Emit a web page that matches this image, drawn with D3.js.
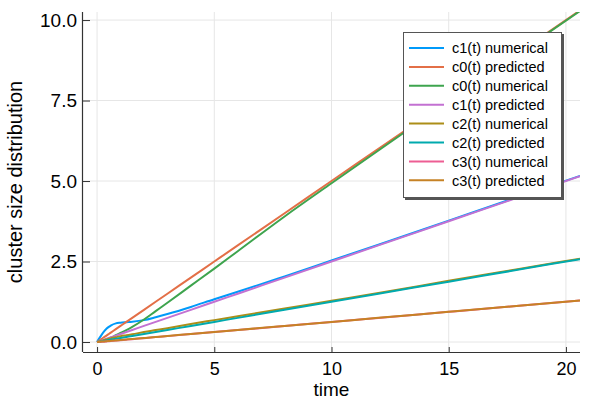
<!DOCTYPE html>
<html><head><meta charset="utf-8">
<script src="https://cdn.jsdelivr.net/npm/d3@7"></script>
<style>
html,body{margin:0;padding:0;background:#fff;}
text{font-family:"Liberation Sans",Arial,sans-serif;fill:#000;}
</style></head>
<body><svg id="chart" width="600" height="400"></svg>
<script>
const time = [0,0.1,0.2,0.3,0.4,0.5,0.6,0.8,1.0,1.25,1.5,2,2.5,3,4,5,6,8,10,12,15,18,20.6];
const c1Numerical = [0,0.12,0.23,0.33,0.41,0.47,0.52,0.58,0.6,0.615,0.63,0.68,0.77,0.87,1.09,1.33,1.56,2.04,2.53,3.02,3.77,4.52,5.16];
const c0Predicted = [0,0.05,0.1,0.15,0.2,0.25,0.3,0.4,0.5,0.625,0.75,1,1.25,1.5,2,2.5,3,4,5,6,7.5,9,10.3];
const c0Numerical = [0,0.01,0.03,0.05,0.08,0.11,0.14,0.21,0.28,0.37,0.47,0.7,0.96,1.22,1.75,2.28,2.82,3.9,4.93,5.95,7.47,8.98,10.28];
const c1Predicted = [0,0.025,0.05,0.075,0.1,0.125,0.15,0.2,0.25,0.3125,0.375,0.5,0.625,0.75,1,1.25,1.5,2,2.5,3,3.75,4.5,5.15];
const c2Numerical = [0,0.02,0.04,0.06,0.08,0.1,0.12,0.15,0.18,0.21,0.24,0.31,0.37,0.43,0.56,0.68,0.8,1.04,1.28,1.52,1.9,2.27,2.59];
const c2Predicted = [0,0.0125,0.025,0.0375,0.05,0.0625,0.075,0.1,0.125,0.156,0.1875,0.25,0.3125,0.375,0.5,0.625,0.75,1,1.25,1.5,1.875,2.25,2.575];
const c3Numerical = [0,0.002,0.006,0.012,0.018,0.025,0.031,0.044,0.057,0.073,0.089,0.12,0.152,0.183,0.246,0.309,0.372,0.498,0.624,0.749,0.937,1.125,1.29];
const c3Predicted = [0,0.006,0.0125,0.019,0.025,0.031,0.0375,0.05,0.0625,0.078,0.094,0.125,0.156,0.1875,0.25,0.3125,0.375,0.5,0.625,0.75,0.9375,1.125,1.29];
const seriesNames = ["c1(t) numerical","c0(t) predicted","c0(t) numerical","c1(t) predicted","c2(t) numerical","c2(t) predicted","c3(t) numerical","c3(t) predicted"];
const seriesValues = [c1Numerical,c0Predicted,c0Numerical,c1Predicted,c2Numerical,c2Predicted,c3Numerical,c3Predicted];
const colors = ["#009AFA","#E36F47","#3EA44E","#C371D2","#AC8E18","#00AAAE","#ED5E93","#C68225"];
const xTicks = [0,5,10,15,20];
const yTicks = [0,2.5,5,7.5,10];

const svg = d3.select("#chart");
const L = 83, R = 580, T = 12, B = 352;
const x = d3.scaleLinear().domain([-0.6,20.6]).range([L,R]);
const y = d3.scaleLinear().domain([-0.31,10.25]).range([B,T]);

// grid
svg.append("g").selectAll("line").data(xTicks).join("line")
  .attr("x1",d=>x(d)).attr("x2",d=>x(d)).attr("y1",T).attr("y2",B)
  .attr("stroke","#e6e6e6").attr("stroke-width",1);
svg.append("g").selectAll("line").data(yTicks).join("line")
  .attr("x1",L).attr("x2",R).attr("y1",d=>y(d)).attr("y2",d=>y(d))
  .attr("stroke","#e6e6e6").attr("stroke-width",1);

svg.append("clipPath").attr("id","clip").append("rect")
  .attr("x",L).attr("y",T).attr("width",R-L).attr("height",B-T);

const line = d3.line().x((d,i)=>x(time[i])).y(d=>y(d)).curve(d3.curveMonotoneX);
const g = svg.append("g").attr("clip-path","url(#clip)");
seriesValues.forEach((vals,k)=>{
  g.append("path").datum(vals).attr("d",line).attr("fill","none")
   .attr("stroke",colors[k]).attr("stroke-width",2).attr("stroke-linejoin","round");
});

// axes
const xAxis = d3.axisBottom(x).tickValues(xTicks).tickFormat(d3.format("d")).tickSizeInner(-5).tickSizeOuter(0).tickPadding(10);
const gx = svg.append("g").attr("transform",`translate(0,${B})`).call(xAxis);
gx.select(".domain").attr("stroke","#333").attr("stroke-width",1.2).attr("d",`M${L},0.5H${R}`);
gx.selectAll(".tick line").attr("stroke","#333");
gx.selectAll("text").attr("font-size",18).attr("font-family","Liberation Sans, Arial, sans-serif").attr("fill","#000");

const yAxis = d3.axisLeft(y).tickValues(yTicks).tickFormat(d3.format(".1f")).tickSizeInner(-7).tickSizeOuter(0).tickPadding(6);
const gy = svg.append("g").attr("transform",`translate(${L},0)`).call(yAxis);
gy.select(".domain").attr("stroke","#333").attr("stroke-width",1.2).attr("d",`M-0.5,${T}V${B}`);
gy.selectAll(".tick line").attr("stroke","#333");
gy.selectAll("text").attr("font-size",19).attr("font-family","Liberation Sans, Arial, sans-serif").attr("fill","#000");

svg.append("text").attr("x",(L+R)/2).attr("y",396).attr("text-anchor","middle")
  .attr("font-size",19).text("time");
svg.append("text").attr("transform",`translate(22,${(T+B)/2}) rotate(-90)`).attr("text-anchor","middle")
  .attr("font-size",20).text("cluster size distribution");

// legend
const lg = svg.append("g");
lg.append("rect").attr("x",405).attr("y",34).attr("width",159).attr("height",166).attr("fill","#555");
lg.append("rect").attr("x",403.5).attr("y",32.5).attr("width",158).attr("height",165).attr("fill","#fff").attr("stroke","#555").attr("stroke-width",1);
seriesNames.forEach((n,k)=>{
  const yy = 48 + k*18.9;
  lg.append("line").attr("x1",409).attr("x2",444).attr("y1",yy).attr("y2",yy)
    .attr("stroke",colors[k]).attr("stroke-width",2);
  lg.append("text").attr("x",452).attr("y",yy).attr("dy","0.36em").attr("font-size",14.5).text(n);
});
</script></body></html>
